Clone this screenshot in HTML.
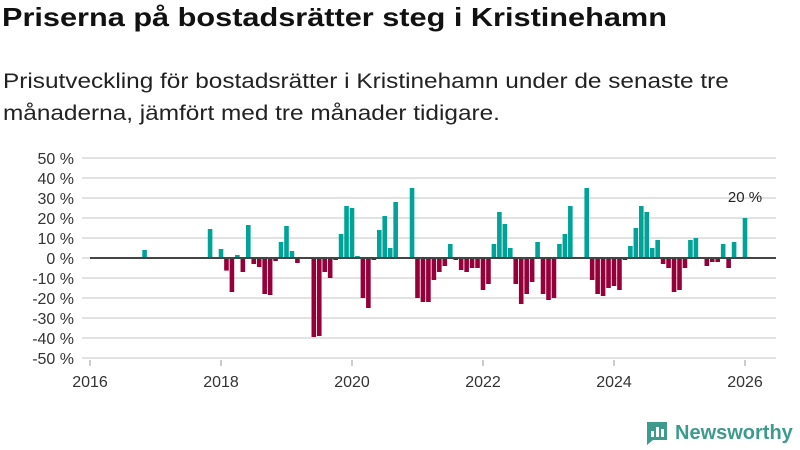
<!DOCTYPE html>
<html><head><meta charset="utf-8">
<style>
body{margin:0;width:800px;height:450px;background:#fff;font-family:"Liberation Sans","DejaVu Sans",sans-serif;overflow:hidden;position:relative}
h1{position:absolute;left:2px;top:2px;margin:0;font-size:26px;font-weight:bold;color:#111;white-space:nowrap;transform:scaleX(1.18);transform-origin:left top}
p{position:absolute;left:3px;top:66px;margin:0;font-size:21px;line-height:32px;color:#222;white-space:nowrap;transform:scaleX(1.16);transform-origin:left top}
</style></head><body>
<h1>Priserna på bostadsrätter steg i Kristinehamn</h1>
<p>Prisutveckling för bostadsrätter i Kristinehamn under de senaste tre<br>månaderna, jämfört med tre månader tidigare.</p>
<svg id="chart" width="800" height="450" style="position:absolute;left:0;top:0"></svg>
<div style="position:absolute;left:645px;top:420px;display:flex;align-items:center;gap:6px">
<svg width="24" height="26"><path d="M2 2h20v18H8l-6 5z" fill="#3d9b8e"/><rect x="6" y="11" width="3" height="6" fill="#fff"/><rect x="11" y="7" width="3" height="10" fill="#fff"/><rect x="16" y="9" width="3" height="8" fill="#fff"/></svg>
<span style="font-size:20px;font-weight:bold;color:#3d9b8e">Newsworthy</span></div>
<script>
const yTicks=[50,40,30,20,10,0,-10,-20,-30,-40,-50];
const xTicks=[2016,2018,2020,2022,2024,2026];
const startYear=2016;
const values=[null,null,null,null,null,null,null,null,null,null,4,null,
null,null,null,null,null,null,null,null,null,null,14.5,null,
4.5,-6.3,-17,1.5,-7,16.5,-3,-4.5,-18,-18.5,-1.5,8,
16,3.5,-2.5,null,null,-39.5,-39,-7,-10,-1,12,26,
25,1,-20,-25,-1,14,21,5,28,null,null,35,
-20,-22,-22,-11,-7,-4,7,-1,-6,-7,-5,-5,
-16,-13,7,23,17,5,-13,-23,-18,-12,8,-18,
-21,-20,7,12,26,null,null,35,-11,-18,-19,-15,
-14,-16,-1,6,15,26,23,5,9,-3,-5,-17,
-16,-5,9,10,null,-4,-2,-2,7,-5,8,null,
20];
const lastLabel="20 %";
const svg=document.getElementById('chart');
const NS="http://www.w3.org/2000/svg";
const x0=90,pxYear=65.5,yZero=258,pxPct=2;
function xs(m){return x0+m*pxYear/12;}
function ys(v){return yZero-v*pxPct;}
function mk(t,a){const e=document.createElementNS(NS,t);for(const k in a)e.setAttribute(k,a[k]);svg.appendChild(e);return e;}
yTicks.forEach(v=>{
 const g=mk('line',{x1:82,x2:776,y1:ys(v),y2:ys(v),stroke:'#e2e2e2','stroke-width':2});
 
 
 const t=mk('text',{x:74,y:ys(v)+6,'text-anchor':'end','font-size':16,fill:'#333'});
 t.textContent=v+' %';
 
 
});
xTicks.forEach(yr=>{
 const x=xs((yr-startYear)*12);
 const l=mk('line',{x1:x,x2:x,y1:360,y2:366,stroke:'#999','stroke-width':1});
 
 
 const t=mk('text',{x:x,y:387,'text-anchor':'middle','font-size':16,fill:'#333'});
 t.textContent=yr;
 
 
});
values.forEach((v,i)=>{
 if(v===null)return;
 const x=xs(i)-2.3;
 const y=v>=0?ys(v):yZero;
 const r=mk('rect',{x:x,y:y,width:4.6,height:Math.abs(v)*pxPct,fill:v>=0?'#00a398':'#95003a'});
 
 
});
const z=mk('line',{x1:90,x2:776,y1:yZero,y2:yZero,stroke:'#444','stroke-width':2});


const li=values.length-1;
const lt=mk('text',{x:xs(li),y:ys(values[li])-16,'text-anchor':'middle','font-size':15,fill:'#222'});
lt.textContent=lastLabel;


</script>
</body></html>
